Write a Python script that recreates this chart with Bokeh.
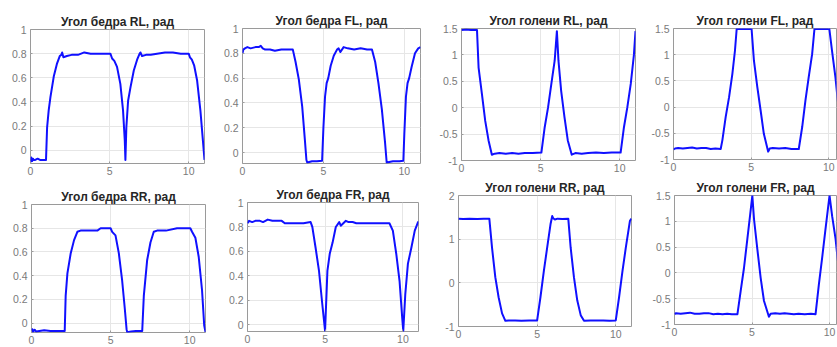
from bokeh.plotting import figure
from bokeh.layouts import row, column
from bokeh.models import FixedTicker, CustomJSTickFormatter, Range1d
from bokeh.embed import file_html
from bokeh.resources import INLINE

# ---------------- data (time in s, angle in rad) ----------------
titles = ["Угол бедра RL, рад", "Угол бедра FL, рад", "Угол голени RL, рад", "Угол голени FL, рад",
          "Угол бедра RR, рад", "Угол бедра FR, рад", "Угол голени RR, рад", "Угол голени FR, рад"]

x_ticks = [0, 5, 10]
hip_ticks = [0, 0.2, 0.4, 0.6, 0.8, 1]
shin_ticks = [-1, -0.5, 0, 0.5, 1, 1.5]
shin_rr_ticks = [-1, 0, 1, 2]

hip_rl_t = [0, 0.05, 0.1, 0.15, 0.2, 0.3, 0.45, 0.6, 0.8, 0.98, 1.05, 1.15, 1.26, 1.47, 1.68, 1.85, 1.95,
            2.0, 2.08, 2.3, 2.6, 3.0, 3.4, 3.8, 4.3, 4.8, 5.05, 5.16, 5.3, 5.47, 5.68, 5.85, 5.96, 6.0,
            6.06, 6.17, 6.32, 6.53, 6.74, 6.9, 6.95, 7.05, 7.3, 7.6, 8.0, 8.5, 9.0, 9.5, 10.0, 10.08,
            10.2, 10.35, 10.53, 10.74, 10.9, 11.0]
hip_rl_y = [-0.1, -0.06, -0.09, -0.07, -0.08, -0.08, -0.07, -0.08, -0.08, -0.08, 0.19, 0.33, 0.44, 0.61,
            0.72, 0.78, 0.79, 0.81, 0.77, 0.78, 0.79, 0.79, 0.81, 0.80, 0.80, 0.80, 0.80, 0.76, 0.74,
            0.69, 0.55, 0.33, 0.08, -0.08, 0.19, 0.41, 0.52, 0.66, 0.75, 0.80, 0.81, 0.78, 0.79, 0.79,
            0.80, 0.81, 0.81, 0.80, 0.80, 0.77, 0.75, 0.70, 0.58, 0.33, 0.08, -0.08]

hip_fl_t = [0, 0.05, 0.15, 0.3, 0.5, 0.8, 1.0, 1.13, 1.25, 1.4, 1.7, 2.0, 2.4, 2.8, 3.11, 3.28, 3.48,
            3.69, 3.85, 3.95, 4.0, 4.3, 4.6, 4.92, 5.0, 5.1, 5.2, 5.3, 5.45, 5.64, 5.84, 5.94, 6.05,
            6.25, 6.5, 6.9, 7.3, 7.7, 8.0, 8.2, 8.4, 8.61, 8.81, 8.91, 9.3, 9.7, 9.94, 10.0, 10.1,
            10.2, 10.3, 10.45, 10.66, 10.86, 11.0]
hip_fl_y = [0.80, 0.83, 0.84, 0.85, 0.84, 0.85, 0.85, 0.86, 0.84, 0.83, 0.83, 0.82, 0.83, 0.83, 0.83,
            0.73, 0.59, 0.37, 0.11, -0.06, -0.08, -0.07, -0.07, -0.065, 0.2, 0.45, 0.56, 0.6, 0.7,
            0.78, 0.83, 0.84, 0.81, 0.85, 0.84, 0.83, 0.84, 0.83, 0.83, 0.73, 0.56, 0.35, 0.08, -0.08,
            -0.07, -0.07, -0.065, 0.15, 0.45, 0.56, 0.6, 0.69, 0.80, 0.84, 0.85]

shin_rl_t = [0, 0.3, 0.6, 0.98, 1.08, 1.29, 1.5, 1.71, 1.92, 2.1, 2.4, 2.8, 3.2, 3.6, 4.0, 4.5, 5.05,
             5.26, 5.47, 5.68, 5.89, 6.03, 6.13, 6.3, 6.51, 6.72, 6.97, 7.2, 7.6, 8.0, 8.5, 9.0, 9.5,
             10.06, 10.27, 10.48, 10.7, 10.9, 11.0]
shin_rl_y = [1.47, 1.48, 1.47, 1.47, 0.76, 0.26, -0.25, -0.62, -0.89, -0.87, -0.86, -0.87, -0.86,
             -0.87, -0.86, -0.86, -0.85, -0.37, 0.0, 0.45, 0.89, 1.45, 0.89, 0.32, -0.18, -0.62,
             -0.89, -0.86, -0.87, -0.86, -0.85, -0.86, -0.85, -0.85, -0.37, 0.0, 0.45, 1.0, 1.45]

shin_fl_t = [0, 0.1, 0.3, 0.6, 0.9, 1.2, 1.5, 1.8, 2.1, 2.4, 2.7, 3.04, 3.15, 3.36, 3.58, 3.79, 3.96,
             4.07, 4.5, 5.03, 5.18, 5.4, 5.61, 5.82, 6.1, 6.2, 6.4, 6.8, 7.2, 7.6, 8.07, 8.29, 8.5,
             8.71, 8.93, 9.08, 9.5, 10.04, 10.21, 10.43, 10.56, 10.75, 11.0]
shin_fl_y = [-0.81, -0.79, -0.78, -0.79, -0.78, -0.77, -0.79, -0.78, -0.78, -0.80, -0.79, -0.80,
             -0.63, -0.19, 0.19, 0.63, 1.08, 1.49, 1.49, 1.49, 0.89, 0.38, -0.06, -0.51, -0.85,
             -0.79, -0.78, -0.79, -0.78, -0.80, -0.80, -0.38, 0.13, 0.57, 1.01, 1.49, 1.49, 1.49,
             1.08, 0.57, 0.19, -0.30, -0.80]

hip_rr_t = [0, 0.05, 0.1, 0.2, 0.3, 0.5, 0.8, 1.2, 1.6, 2.1, 2.16, 2.27, 2.48, 2.69, 2.9, 3.1, 3.5,
            4.16, 4.37, 5.0, 5.1, 5.31, 5.52, 5.73, 5.9, 6.01, 6.05, 6.3, 6.6, 7.0, 7.1, 7.31, 7.52,
            7.73, 7.94, 8.5, 9.2, 10.04, 10.15, 10.36, 10.57, 10.78, 10.92, 11.0]
hip_rr_y = [-0.075, -0.05, -0.07, -0.055, -0.07, -0.065, -0.06, -0.065, -0.065, -0.065, 0.23, 0.42,
            0.59, 0.70, 0.77, 0.78, 0.78, 0.78, 0.80, 0.80, 0.77, 0.74, 0.59, 0.36, 0.12, -0.05, -0.075,
            -0.07, -0.065, -0.065, 0.23, 0.53, 0.68, 0.77, 0.78, 0.78, 0.80, 0.80, 0.77, 0.72, 0.56,
            0.28, -0.02, -0.075]

hip_fr_t = [0, 0.1, 0.3, 0.5, 0.8, 1.0, 1.3, 1.6, 1.9, 2.2, 2.4, 2.8, 3.2, 3.6, 4.06, 4.17, 4.38, 4.6,
            4.81, 4.99, 5.14, 5.29, 5.47, 5.68, 5.9, 6.0, 6.33, 6.5, 6.76, 7.0, 7.5, 8.0, 8.5, 9.13,
            9.35, 9.57, 9.78, 9.95, 10.02, 10.15, 10.32, 10.54, 10.76, 10.97, 11.0]
hip_fr_y = [0.83, 0.85, 0.84, 0.85, 0.85, 0.84, 0.86, 0.85, 0.85, 0.85, 0.83, 0.83, 0.83, 0.83, 0.84,
            0.80, 0.63, 0.44, 0.17, -0.05, 0.44, 0.58, 0.67, 0.80, 0.84, 0.81, 0.85, 0.84, 0.84,
            0.83, 0.83, 0.83, 0.83, 0.83, 0.77, 0.58, 0.36, 0.06, -0.05, 0.25, 0.50, 0.63, 0.77,
            0.84, 0.84]

shin_rr_t = [0, 0.3, 0.7, 1.2, 1.6, 1.96, 2.13, 2.34, 2.55, 2.77, 2.98, 3.2, 3.6, 4.0, 4.5, 5.0, 5.21,
             5.43, 5.64, 5.85, 5.96, 6.02, 6.13, 6.3, 6.6, 6.98, 7.13, 7.34, 7.55, 7.77, 7.98, 8.4,
             8.8, 9.2, 9.6, 10.0, 10.21, 10.43, 10.64, 10.9, 11.0]
shin_rr_y = [1.47, 1.46, 1.47, 1.46, 1.47, 1.47, 0.81, 0.13, -0.33, -0.70, -0.87, -0.86, -0.86,
             -0.87, -0.86, -0.86, -0.33, 0.28, 0.81, 1.34, 1.53, 1.48, 1.45, 1.47, 1.46, 1.47, 0.81,
             0.13, -0.40, -0.74, -0.87, -0.86, -0.86, -0.86, -0.87, -0.86, -0.33, 0.28, 0.81, 1.42,
             1.47]

shin_fr_t = [0, 0.1, 0.4, 0.7, 1.0, 1.3, 1.6, 1.9, 2.2, 2.5, 2.8, 3.1, 3.4, 3.7, 4.06, 4.27, 4.48, 4.7,
             4.87, 5.02, 5.13, 5.34, 5.56, 5.77, 6.09, 6.2, 6.5, 6.8, 7.1, 7.4, 7.7, 8.0, 8.4, 8.8, 9.1,
             9.31, 9.52, 9.74, 10.0, 10.17, 10.39, 10.52, 10.8, 11.0]
shin_fr_y = [-0.80, -0.78, -0.79, -0.78, -0.77, -0.79, -0.79, -0.78, -0.78, -0.80, -0.79, -0.80,
             -0.79, -0.80, -0.80, -0.35, 0.09, 0.66, 1.10, 1.50, 1.04, 0.47, -0.10, -0.54, -0.85,
             -0.79, -0.78, -0.79, -0.78, -0.79, -0.80, -0.79, -0.80, -0.79, -0.80, -0.23, 0.28, 0.85,
             1.50, 1.10, 0.66, 0.28, -0.30, -0.60]

FONT = "Liberation Sans"
LINE = "#1010ff"


def make(title, t, y, ylim, yticks, xend, w, h, L, R, T, B):
    p = figure(width=w, height=h, output_backend="svg", toolbar_location=None,
               x_range=Range1d(0, xend), y_range=Range1d(ylim[0], ylim[1]),
               min_border_left=L, min_border_right=R, min_border_top=T, min_border_bottom=B,
               title=title, background_fill_color="white", border_fill_color="white")
    p.title.text_font = FONT
    p.title.text_font_style = "bold"
    p.title.text_font_size = "12px"
    p.title.text_color = "#262626"
    p.title.align = "center"
    p.title.standoff = 1
    p.outline_line_color = "#9a9a9a"
    p.outline_line_width = 1
    fmt = CustomJSTickFormatter(code="return String(tick);")
    p.xaxis.ticker = FixedTicker(ticks=x_ticks)
    p.yaxis.ticker = FixedTicker(ticks=yticks)
    for ax in (p.xaxis, p.yaxis):
        ax.formatter = fmt
        ax.axis_line_color = None
        ax.major_tick_in = 2
        ax.major_tick_out = 0
        ax.major_tick_line_color = "#9a9a9a"
        ax.minor_tick_line_color = None
        ax.major_label_text_font = FONT
        ax.major_label_text_font_size = "10.5px"
        ax.major_label_text_color = "#7a7a7a"
    p.xaxis.major_label_standoff = 3
    p.yaxis.major_label_standoff = 4
    p.grid.grid_line_color = "#e6e6e6"
    p.grid.grid_line_width = 1
    p.line(t, y, line_color=LINE, line_width=2, line_join="round")
    # wrap in its own column so that neighbouring frames are not forced to align
    return column(p)


H1, H2 = 178, 169
f1 = make(titles[0], hip_rl_t, hip_rl_y, (-0.11, 1.0), hip_ticks, 11, 212, H1, 30, 8, 29, 15)
f2 = make(titles[1], hip_fl_t, hip_fl_y, (-0.088, 1.0), hip_ticks, 11, 218, H1, 30, 10, 28, 15)
f3 = make(titles[2], shin_rl_t, shin_rl_y, (-1, 1.5), shin_ticks, 11, 212, H1, 31, 7, 28, 18)
f4 = make(titles[3], shin_fl_t, shin_fl_y, (-1, 1.5), shin_ticks, 10.5, 195, H1, 31, 1, 28, 19)

f5 = make(titles[4], hip_rr_t, hip_rr_y, (-0.078, 1.0), hip_ticks, 11, 213, H2, 31, 8, 26, 15)
f6 = make(titles[5], hip_fr_t, hip_fr_y, (-0.055, 1.0), hip_ticks, 11, 215, H2, 34, 10, 24, 16)
f7 = make(titles[6], shin_rr_t, shin_rr_y, (-1, 2), shin_rr_ticks, 11, 212, H2, 30, 9, 17, 21)
f8 = make(titles[7], shin_fr_t, shin_fr_y, (-1, 1.5), shin_ticks, 10.45, 197, H2, 34, 1, 15, 23)

layout = column(row(f1, f2, f3, f4), row(f5, f6, f7, f8))

open("out.html", "w").write(file_html(layout, INLINE))
